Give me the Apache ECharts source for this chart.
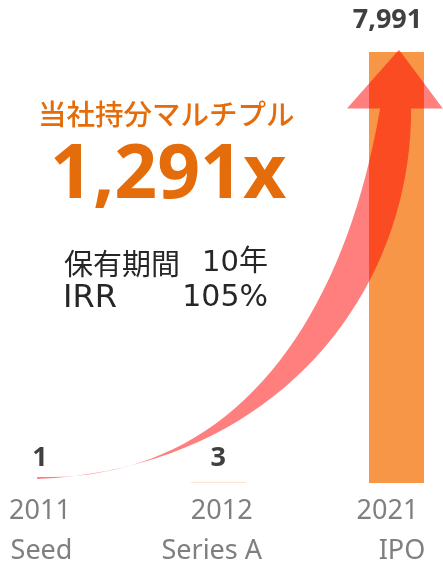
<!DOCTYPE html>
<html>
<head>
<meta charset="utf-8">
<script src="https://cdn.jsdelivr.net/npm/echarts@6/dist/echarts.min.js"></script>
<style>
html, body { margin: 0; padding: 0; background: #fff; }
#main { width: 443px; height: 561px; }
</style>
</head>
<body>
<div id="main"></div>
<script>
// ラウンド別の倍率
var years = ['2011', '2012', '2021'];
var rounds = ['Seed', 'Series A', 'IPO'];
var values = [1, 3, 7991];
var labelText = ['1', '3', '7,991'];

var titleText = '当社持分マルチプル';
var multipleText = '1,291x';
var statNames = ['保有期間', 'IRR'];
var statValues = ['10年', '105%'];

var FONT = '"Noto Sans", "Noto Sans CJK JP", sans-serif';
var FONT_JP = '"Noto Sans CJK JP", "Noto Sans", sans-serif';
var FONT_WIDE = '"DejaVu Sans", "Noto Sans CJK JP", sans-serif';

var myChart = echarts.init(document.getElementById('main'));

var barData = values.map(function (v, i) {
    return {
        value: v,
        label: {
            distance: i == 2 ? 18 : 11,
            offset: i == 2 ? [-9, 0] : [0, 0]
        }
    };
});

// 軸ラベルの微調整（左右の余白）
var yearPad = [[0, 0, 0, 0], [0, 0, 0, 7], [0, 18, 0, 0]];
var roundPad = [[0, 0, 0, 3], [0, 13, 0, 0], [0, 0, 0, 11]];
var axisRich = {};
years.forEach(function (y, i) {
    axisRich['y' + i] = { color: '#7f7f7f', fontFamily: FONT, fontSize: 27, lineHeight: 40, padding: yearPad[i] };
    axisRich['n' + i] = { color: '#7f7f7f', fontFamily: FONT, fontSize: 27, lineHeight: 40, padding: roundPad[i] };
});

myChart.setOption({
    animation: false,
    grid: { left: 40, right: 46.5, top: 52, bottom: 78, outerBoundsMode: 'none' },
    xAxis: {
        type: 'category',
        boundaryGap: false,
        data: years,
        axisLine: { show: false },
        axisTick: { show: false },
        axisLabel: {
            interval: 0,
            margin: 8,
            color: '#7f7f7f',
            fontFamily: FONT,
            fontSize: 27,
            lineHeight: 40,
            formatter: function (value, index) {
                return '{y' + index + '|' + value + '}\n{n' + index + '|' + rounds[index] + '}';
            },
            rich: axisRich
        }
    },
    yAxis: {
        type: 'value',
        min: 0,
        max: 7991,
        show: false
    },
    series: [{
        type: 'bar',
        barWidth: 55,
        itemStyle: { color: '#F79646' },
        label: {
            show: true,
            position: 'top',
            color: '#404040',
            fontFamily: FONT,
            fontSize: 27,
            fontWeight: 'bold',
            formatter: function (p) { return labelText[p.dataIndex]; }
        },
        data: barData
    }]
});

// 矢印はバーの位置から計算する
var A = myChart.convertToPixel({ gridIndex: 0 }, [0, 0]);
var B = myChart.convertToPixel({ gridIndex: 0 }, [2, values[2]]);
var px = function (u, v) {
    return [A[0] + u * (B[0] - A[0]), A[1] - v * (A[1] - B[1])];
};
var cubic = function (p0, p1, p2, p3, n) {
    var pts = [];
    for (var i = 0; i <= n; i++) {
        var t = i / n, s = 1 - t;
        pts.push([
            s * s * s * p0[0] + 3 * s * s * t * p1[0] + 3 * s * t * t * p2[0] + t * t * t * p3[0],
            s * s * s * p0[1] + 3 * s * s * t * p1[1] + 3 * s * t * t * p2[1] + t * t * t * p3[1]
        ]);
    }
    return pts;
};
var arrowPoints = []
    .concat(cubic(px(-0.008, 0.014), px(0.505, 0.002), px(0.842, 0.332), px(0.954, 0.869), 40))
    .concat([px(0.861, 0.869), px(1.007, 1.005), px(1.130, 0.869)])
    .concat(cubic(px(1.041, 0.869), px(1.043, 0.448), px(0.673, 0.035), px(-0.008, 0.009), 40));

myChart.setOption({
    graphic: [
        {
            type: 'polygon',
            z: 50,
            shape: { points: arrowPoints },
            style: { fill: 'rgba(255,0,0,0.5)' }
        },
        {
            type: 'text', z: 60, left: 38, top: 100,
            style: { text: titleText, fill: '#E46C0A', font: '500 28.5px ' + FONT_JP }
        },
        {
            type: 'text', z: 60, left: 50, top: 139,
            style: { text: multipleText, fill: '#E46C0A', font: 'bold 75px ' + FONT }
        },
        {
            type: 'text', z: 60, left: 64, top: 249,
            style: { text: statNames[0], fill: '#262626', font: '29px ' + FONT_JP }
        },
        {
            type: 'text', z: 60, right: 175, top: 249,
            style: { text: statValues[0], fill: '#262626', font: '29px ' + FONT_WIDE }
        },
        {
            type: 'text', z: 60, left: 63, top: 283,
            style: { text: statNames[1], fill: '#262626', font: '32px ' + FONT_WIDE }
        },
        {
            type: 'text', z: 60, right: 175, top: 283,
            style: { text: statValues[1], fill: '#262626', font: '30px ' + FONT_WIDE }
        }
    ]
});
window.onresize = myChart.resize;
</script>
</body>
</html>
